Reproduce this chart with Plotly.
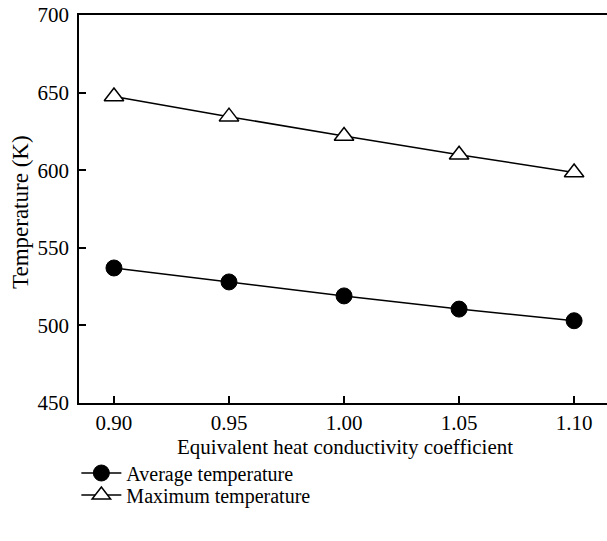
import plotly.graph_objects as go

x_vals = [0.90, 0.95, 1.00, 1.05, 1.10]
avg_temp = [537, 528, 519, 510.5, 503]
max_temp = [647.5, 634.5, 622, 610, 598.5]
x_ticks = [0.90, 0.95, 1.00, 1.05, 1.10]
x_tick_text = ["0.90", "0.95", "1.00", "1.05", "1.10"]
y_ticks = [450, 500, 550, 600, 650, 700]
x_title = "Equivalent heat conductivity coefficient"
y_title = "Temperature (K)"

FONT = "Liberation Serif"
W, H = 607, 541
L, R, T, B = 79, 0, 15, 138
PW, PH = W - L - R, H - T - B

fig = go.Figure()
fig.add_trace(go.Scatter(
    x=x_vals, y=avg_temp, mode="lines+markers", name="Average temperature",
    line=dict(color="black", width=1.5), legend="legend",
    marker=dict(symbol="circle", size=16, color="black", line=dict(color="black", width=1)),
))
fig.add_trace(go.Scatter(
    x=x_vals, y=max_temp, mode="lines+markers", name="Maximum temperature",
    line=dict(color="black", width=1.5), legend="legend2",
    marker=dict(symbol="triangle-up", size=17, color="white", line=dict(color="black", width=1.5)),
))

leg_common = dict(x=-0.005, xanchor="left", yref="container", yanchor="middle",
                  bgcolor="rgba(0,0,0,0)", font=dict(family=FONT, size=20, color="black"),
                  itemwidth=40)

fig.update_layout(
    width=W, height=H,
    margin=dict(l=L, r=R, t=T, b=B, autoexpand=False),
    paper_bgcolor="white", plot_bgcolor="white",
    font=dict(family=FONT, size=21, color="black"),
    showlegend=True,
    legend=dict(y=(H - 473) / H, **leg_common),
    legend2=dict(y=(H - 495) / H, **leg_common),
    xaxis=dict(
        range=[0.8848, 1.1143], tickvals=x_ticks, ticktext=x_tick_text,
        showgrid=False, zeroline=False, showline=True, linecolor="black", linewidth=1.5,
        mirror=True, ticks="inside", ticklen=7, tickcolor="black", tickwidth=1.5,
        tickfont=dict(family=FONT, size=21, color="black"),
    ),
    yaxis=dict(
        range=[450, 700], tickvals=y_ticks,
        showgrid=False, zeroline=False, showline=True, linecolor="black", linewidth=1.5,
        ticks="inside", ticklen=7, tickcolor="black", tickwidth=1.5,
        ticklabelstandoff=4,
        tickfont=dict(family=FONT, size=21, color="black"),
    ),
    annotations=[
        dict(text=x_title, xref="paper", yref="paper",
             x=(344.5 - L) / PW, y=(H - B - 447) / PH,
             xanchor="center", yanchor="middle", showarrow=False,
             font=dict(family=FONT, size=21, color="black")),
        dict(text=y_title, xref="paper", yref="paper",
             x=(20 - L) / PW, y=(H - B - 212) / PH, textangle=-90,
             xanchor="center", yanchor="middle", showarrow=False,
             font=dict(family=FONT, size=23, color="black")),
    ],
)

fig.write_html("out.html")
